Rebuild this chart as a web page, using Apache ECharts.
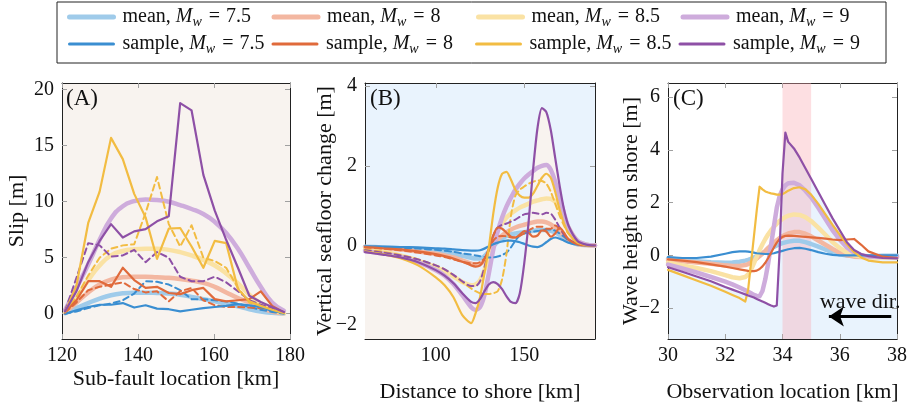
<!DOCTYPE html>
<html><head><meta charset="utf-8">
<script src="https://cdn.jsdelivr.net/npm/echarts@6/dist/echarts.min.js"></script>
<style>html,body{margin:0;padding:0;background:#fff}#c{width:914px;height:406px}</style>
</head><body><div id="c"></div>
<script>
// ---------- Panel A: slip vs sub-fault location ----------
const xsA = [120.8,123.8,126.9,129.9,132.9,136.0,139.0,142.0,145.0,148.1,151.1,154.1,157.2,160.2,163.2,166.3,169.3,172.3,175.3,178.4];
const aM75 = [0.05,0.5,0.95,1.35,1.65,1.82,1.88,1.88,1.85,1.8,1.7,1.5,1.3,1.1,0.9,0.65,0.4,0.2,0.08,0.02];
const aM8  = [0.1,1.0,1.9,2.6,3.05,3.25,3.3,3.3,3.25,3.2,3.1,2.95,2.75,2.4,1.9,1.4,1.0,0.55,0.2,0.05];
const aM85 = [0.15,1.4,3.0,4.3,5.2,5.6,5.75,5.8,5.8,5.7,5.5,5.2,4.8,4.3,3.6,2.7,1.7,0.9,0.35,0.05];
const aM9  = [0.3,2.3,4.4,6.6,8.5,9.6,10.05,10.2,10.15,10.0,9.7,9.35,8.9,8.2,7.2,5.8,4.1,2.4,1.0,0.25];
const aS75 = [0.0,0.3,0.6,0.8,0.8,0.95,0.55,0.75,0.45,0.4,0.2,0.35,0.5,0.6,0.7,0.85,0.75,0.6,0.25,0.05];
const aS8  = [0.1,1.2,2.9,2.9,2.4,4.1,3.0,2.3,2.4,1.85,1.75,2.1,2.3,1.3,1.1,1.2,1.3,2.0,0.7,0.1];
const aS85 = [0.15,2.5,8.1,10.9,15.7,13.8,10.7,8.6,4.9,7.6,7.65,6.0,4.1,6.5,6.3,2.2,1.1,0.7,0.35,0.05];
const aS9  = [0.2,2.0,4.6,6.5,8.0,6.8,7.35,7.55,8.25,8.7,18.8,18.15,12.4,9.2,6.6,4.1,1.6,1.05,0.6,0.15];
const aD75 = [0.0,0.2,0.5,0.75,0.9,1.2,1.8,2.9,2.85,2.6,2.1,1.3,1.3,1.2,1.1,0.9,0.6,0.35,0.15,0.0];
const aD8  = [0.1,1.0,2.1,2.4,2.6,2.8,2.2,1.9,2.0,1.1,2.0,2.3,1.2,0.75,0.6,0.6,0.55,0.5,0.35,0.05];
const aD85 = [0.1,1.5,3.4,5.0,5.8,6.1,6.2,9.0,12.2,8.0,6.0,7.9,5.0,4.7,4.1,2.3,1.0,0.6,0.3,0.05];
const aD9  = [0.25,3.2,6.3,6.1,5.1,5.2,5.7,4.6,5.5,5.0,3.3,2.9,2.9,3.3,2.8,2.0,1.2,0.8,0.5,0.1];
const ticksAx = [120,140,160,180], ticksAy = [0,5,10,15,20];

// ---------- Panel B: vertical seafloor change vs distance to shore ----------
const xsB = [60,70,80,90,100,105,110,115,120,122.5,125,127.5,130,132.5,135,137.5,140,142.5,145,147.5,150,152.5,155,157.5,160,162.5,165,167.5,170,172.5,175,180,185,190];
const bM75 = [-0.03,-0.05,-0.07,-0.1,-0.14,-0.17,-0.21,-0.26,-0.31,-0.33,-0.33,-0.27,-0.15,-0.02,0.1,0.18,0.24,0.28,0.3,0.32,0.33,0.35,0.37,0.38,0.39,0.39,0.37,0.33,0.26,0.18,0.11,0.03,0.01,0.0];
const bM8  = [-0.04,-0.07,-0.1,-0.15,-0.21,-0.25,-0.3,-0.38,-0.46,-0.49,-0.47,-0.38,-0.2,0.0,0.15,0.25,0.33,0.4,0.45,0.49,0.52,0.55,0.58,0.6,0.6,0.58,0.53,0.45,0.35,0.24,0.14,0.04,0.01,0.0];
const bM85 = [-0.1,-0.16,-0.25,-0.38,-0.55,-0.65,-0.78,-0.92,-1.0,-0.98,-0.88,-0.62,-0.25,0.12,0.38,0.55,0.7,0.8,0.88,0.95,1.0,1.05,1.1,1.13,1.16,1.18,1.17,1.1,0.95,0.7,0.45,0.12,0.02,0.0];
const bM9  = [-0.14,-0.2,-0.28,-0.42,-0.62,-0.76,-0.97,-1.25,-1.55,-1.62,-1.55,-1.25,-0.7,-0.1,0.35,0.7,0.98,1.2,1.4,1.55,1.68,1.78,1.87,1.95,2.0,2.02,1.9,1.6,1.2,0.8,0.45,0.12,0.02,0.0];
const bS75 = [-0.02,-0.03,-0.04,-0.05,-0.07,-0.08,-0.1,-0.12,-0.13,-0.13,-0.12,-0.08,-0.02,0.03,0.07,0.1,0.12,0.12,0.11,0.08,0.04,0.0,-0.03,-0.04,0.0,0.08,0.16,0.2,0.17,0.12,0.07,0.02,0.0,0.0];
const bS8  = [-0.04,-0.07,-0.1,-0.15,-0.22,-0.27,-0.33,-0.41,-0.5,-0.53,-0.5,-0.35,-0.08,0.25,0.45,0.42,0.32,0.22,0.2,0.27,0.36,0.32,0.22,0.25,0.38,0.35,0.22,0.3,0.45,0.32,0.15,0.03,0.0,0.0];
const bS85 = [-0.15,-0.22,-0.32,-0.5,-0.8,-1.0,-1.3,-1.75,-1.95,-1.7,-1.3,-0.7,-0.05,0.8,1.45,1.8,1.85,1.65,1.4,1.25,1.2,1.2,1.3,1.5,1.7,1.8,1.7,1.35,0.9,0.55,0.3,0.07,0.01,0.0];
const bS9  = [-0.17,-0.23,-0.3,-0.42,-0.62,-0.76,-0.95,-1.2,-1.42,-1.45,-1.35,-1.15,-0.98,-0.92,-0.97,-1.1,-1.28,-1.42,-1.45,-1.2,-0.45,0.6,1.9,2.95,3.45,3.35,2.9,2.2,1.5,0.9,0.5,0.12,0.02,0.0];
const bD75 = [-0.03,-0.04,-0.06,-0.08,-0.11,-0.13,-0.16,-0.2,-0.23,-0.25,-0.27,-0.29,-0.3,-0.3,-0.28,-0.24,-0.18,-0.05,0.12,0.25,0.3,0.33,0.35,0.36,0.38,0.4,0.4,0.37,0.3,0.22,0.13,0.04,0.01,0.0];
const bD8  = [-0.05,-0.08,-0.12,-0.18,-0.25,-0.29,-0.35,-0.41,-0.45,-0.45,-0.42,-0.33,-0.12,0.12,0.22,0.24,0.23,0.2,0.2,0.24,0.3,0.38,0.44,0.47,0.47,0.42,0.42,0.5,0.42,0.28,0.15,0.04,0.01,0.0];
const bD85 = [-0.1,-0.16,-0.24,-0.35,-0.5,-0.6,-0.75,-0.92,-1.08,-1.15,-1.2,-1.22,-1.22,-1.2,-1.15,-0.85,-0.2,0.75,1.25,1.4,1.48,1.55,1.6,1.63,1.62,1.55,1.35,1.05,0.75,0.5,0.3,0.08,0.01,0.0];
const bD9  = [-0.12,-0.18,-0.25,-0.35,-0.5,-0.6,-0.74,-0.9,-1.02,-1.02,-0.9,-0.55,-0.1,0.25,0.45,0.52,0.55,0.6,0.65,0.72,0.78,0.8,0.82,0.8,0.78,0.82,0.8,0.65,0.45,0.28,0.15,0.04,0.01,0.0];
const ticksBx = [100,150], ticksBy = [-2,0,2,4];

// ---------- Panel C: wave height on shore vs observation location ----------
const xsC = [30,30.5,31,31.5,32,32.25,32.5,32.7,32.8,32.9,33.0,33.1,33.2,33.3,33.4,33.5,33.6,33.7,33.8,33.9,34.0,34.1,34.2,34.4,34.6,34.8,35.0,35.25,35.5,35.75,36.0,36.25,36.5,36.75,37.0,37.5,38.0];
const cM75 = [-0.12,-0.17,-0.22,-0.26,-0.28,-0.27,-0.24,-0.2,-0.17,-0.13,-0.08,-0.03,0.02,0.08,0.14,0.2,0.26,0.32,0.37,0.42,0.46,0.49,0.52,0.55,0.55,0.5,0.43,0.33,0.22,0.12,0.04,-0.01,-0.03,-0.03,-0.03,-0.02,-0.02];
const cM8  = [-0.18,-0.22,-0.27,-0.32,-0.38,-0.4,-0.4,-0.37,-0.33,-0.27,-0.2,-0.12,-0.03,0.07,0.17,0.28,0.38,0.48,0.57,0.65,0.72,0.78,0.83,0.88,0.88,0.82,0.72,0.56,0.4,0.24,0.1,0.0,-0.05,-0.06,-0.06,-0.05,-0.05];
const cM85 = [-0.28,-0.38,-0.48,-0.6,-0.75,-0.83,-0.87,-0.82,-0.72,-0.55,-0.3,-0.05,0.2,0.42,0.62,0.8,0.95,1.08,1.2,1.3,1.38,1.45,1.5,1.55,1.53,1.45,1.3,1.05,0.78,0.5,0.27,0.1,0.0,-0.05,-0.07,-0.08,-0.08];
const cM9  = [-0.35,-0.5,-0.65,-0.82,-1.0,-1.1,-1.22,-1.32,-1.38,-1.44,-1.5,-1.54,-1.55,-1.35,-0.9,-0.3,0.4,1.1,1.8,2.25,2.5,2.65,2.73,2.75,2.65,2.45,2.2,1.8,1.38,0.95,0.6,0.3,0.1,0.0,-0.04,-0.06,-0.06];
const cS75 = [-0.07,-0.1,-0.1,-0.05,0.06,0.12,0.15,0.15,0.14,0.12,0.1,0.08,0.07,0.06,0.05,0.05,0.06,0.08,0.11,0.14,0.17,0.2,0.23,0.27,0.28,0.25,0.2,0.12,0.06,0.02,0.0,0.0,0.0,0.0,0.0,0.0,0.0];
const cS8  = [-0.15,-0.2,-0.26,-0.34,-0.43,-0.48,-0.53,-0.57,-0.59,-0.6,-0.6,-0.58,-0.52,-0.42,-0.28,-0.1,0.1,0.3,0.48,0.62,0.7,0.74,0.75,0.74,0.72,0.7,0.68,0.66,0.63,0.6,0.58,0.6,0.62,0.4,0.15,-0.05,-0.1];
const cS85 = [-0.55,-0.75,-0.95,-1.15,-1.38,-1.5,-1.62,-1.75,-1.3,-0.3,0.7,1.7,2.6,2.5,2.42,2.38,2.35,2.33,2.3,2.3,2.32,2.38,2.45,2.55,2.58,2.5,2.3,1.95,1.55,1.15,0.78,0.42,0.12,-0.08,-0.2,-0.27,-0.27];
const cS9  = [-0.45,-0.62,-0.8,-0.98,-1.2,-1.3,-1.4,-1.48,-1.52,-1.56,-1.6,-1.65,-1.7,-1.75,-1.8,-1.85,-1.9,-1.94,-1.9,0.2,3.1,4.65,4.3,4.05,3.7,3.3,2.9,2.4,1.9,1.4,0.95,0.5,0.2,0.05,-0.03,-0.1,-0.12];
const ticksCx = [30,32,34,36,38], ticksCy = [-2,0,2,4,6];
const shoreBand = [34, 35];
const waveArrow = [[37.8, -2.32], [35.62, -2.32]];

const legendNames = ['mean, M_w = 7.5','mean, M_w = 8','mean, M_w = 8.5','mean, M_w = 9',
                     'sample, M_w = 7.5','sample, M_w = 8','sample, M_w = 8.5','sample, M_w = 9'];

// ---------- styling ----------
const FONT = '"Liberation Serif","DejaVu Serif",serif';
const COL = {
  m75:'#9fcbea', m8:'#f3b7a1', m85:'#fae2a4', m9:'#ceacdc',
  s75:'#3a8ed1', s8:'#e06a3b', s85:'#f2bc42', s9:'#8e50a6'
};
const legendCols = [COL.m75, COL.m8, COL.m85, COL.m9, COL.s75, COL.s8, COL.s85, COL.s9];
const BEIGE = '#f8f3ef', SKY = '#e9f3fd';
const fmt = v => (v < 0 ? '\u2212' + Math.abs(v) : String(v));
const pairs = (xs, ys) => xs.map((x, i) => [x, ys[i]]);

function line(name, g, xs, ys, color, width, dashed, z, smooth) {
  return { type:'line', name, xAxisIndex:g*2, yAxisIndex:g*2, data:pairs(xs, ys),
    symbol:'none', smooth: smooth || false, z, silent:true, animation:false,
    lineStyle:{ color, width, type: dashed ? [6,4] : 'solid', cap:'round', join:'round' },
    itemStyle:{ color } };
}

function axes(g, xmin, xmax, xt, ymin, ymax, yt, xname, xgap, yname, ygap) {
  const base = (t, show) => ({
    axisLine:{ show:true, onZero:false, lineStyle:{ color:'#222', width:1 } },
    axisTick:{ show:true, inside:true, length:5, lineStyle:{ color:'#a0a0a0', width:1 }, customValues:t },
    axisLabel:{ show, customValues:t, fontFamily:FONT, fontSize:20, color:'#111', formatter:fmt },
    splitLine:{ show:false }
  });
  const xa = Object.assign({ type:'value', gridIndex:g, position:'bottom', min:xmin, max:xmax,
     name:xname, nameLocation:'middle', nameGap:xgap, nameMoveOverlap:false,
     nameTextStyle:{ fontFamily:FONT, fontSize:22, color:'#111' } }, base(xt, true));
  xa.axisLabel.margin = 7;
  const xb = Object.assign({ type:'value', gridIndex:g, position:'top', min:xmin, max:xmax }, base(xt, false));
  const ya = Object.assign({ type:'value', gridIndex:g, position:'left', min:ymin, max:ymax,
     name:yname, nameLocation:'middle', nameGap:ygap, nameMoveOverlap:false,
     nameTextStyle:{ fontFamily:FONT, fontSize:22, color:'#111' } }, base(yt, true));
  ya.axisLabel.margin = 8;
  const yb = Object.assign({ type:'value', gridIndex:g, position:'right', min:ymin, max:ymax }, base(yt, false));
  return { x:[xa, xb], y:[ya, yb] };
}

const A = axes(0, 120, 180, ticksAx, -2.26, 20.6, ticksAy, 'Sub-fault location [km]', 29, 'Slip [m]', 34);
const B = axes(1, 60, 190, ticksBx, -2.35, 4.08, ticksBy, 'Distance to shore [km]', 42, 'Vertical seafloor change [m]', 29);
const C = axes(2, 30, 38, ticksCx, -3.17, 6.53, ticksCy, 'Observation location [km]', 42, 'Wave height on shore [m]', 26);

const series = [];
// Panel A
series.push(line(legendNames[0],0,xsA,aM75,COL.m75,4.5,false,2,true));
series.push(line(legendNames[1],0,xsA,aM8,COL.m8,4.5,false,2,true));
series.push(line(legendNames[2],0,xsA,aM85,COL.m85,4.5,false,2,true));
series.push(line(legendNames[3],0,xsA,aM9,COL.m9,4.5,false,2,true));
series.push(line('d75',0,xsA,aD75,COL.s75,2,true,3));
series.push(line('d8',0,xsA,aD8,COL.s8,2,true,3));
series.push(line('d85',0,xsA,aD85,COL.s85,2,true,3));
series.push(line('d9',0,xsA,aD9,COL.s9,2,true,3));
series.push(line(legendNames[4],0,xsA,aS75,COL.s75,2.2,false,4));
series.push(line(legendNames[5],0,xsA,aS8,COL.s8,2.2,false,4));
series.push(line(legendNames[6],0,xsA,aS85,COL.s85,2.2,false,4));
series.push(line(legendNames[7],0,xsA,aS9,COL.s9,2.2,false,4));
// Panel B : seafloor fill under the Mw 9 sample
series.push({ type:'line', name:'seafloor', xAxisIndex:2, yAxisIndex:2, data:pairs(xsB,bS9), symbol:'none',
  smooth:0.25, z:1, silent:true, animation:false, lineStyle:{ width:0, opacity:0 },
  areaStyle:{ color:BEIGE, opacity:1, origin:'start' } });
const SB = 0.25;
series.push(line(legendNames[0],1,xsB,bM75,COL.m75,4.5,false,2,SB));
series.push(line(legendNames[1],1,xsB,bM8,COL.m8,4.5,false,2,SB));
series.push(line(legendNames[2],1,xsB,bM85,COL.m85,4.5,false,2,SB));
series.push(line(legendNames[3],1,xsB,bM9,COL.m9,4.5,false,2,SB));
series.push(line('d75',1,xsB,bD75,COL.s75,2,true,3,SB));
series.push(line('d8',1,xsB,bD8,COL.s8,2,true,3,SB));
series.push(line('d85',1,xsB,bD85,COL.s85,2,true,3,SB));
series.push(line('d9',1,xsB,bD9,COL.s9,2,true,3,SB));
series.push(line(legendNames[4],1,xsB,bS75,COL.s75,2.2,false,4,SB));
series.push(line(legendNames[5],1,xsB,bS8,COL.s8,2.2,false,4,SB));
series.push(line(legendNames[6],1,xsB,bS85,COL.s85,2.2,false,4,SB));
series.push(line(legendNames[7],1,xsB,bS9,COL.s9,2.2,false,4,SB));
// Panel C : water fill under the Mw 9 sample, shore band, arrow
series.push({ type:'line', name:'water', xAxisIndex:4, yAxisIndex:4, data:pairs(xsC,cS9), symbol:'none',
  z:0, zlevel:0, silent:true, animation:false, lineStyle:{ width:0, opacity:0 },
  areaStyle:{ color:SKY, opacity:1, origin:'start' } });
series.push({ type:'line', name:'band', xAxisIndex:4, yAxisIndex:4, data:[], z:3, silent:true, animation:false,
  markArea:{ silent:true, z:3, itemStyle:{ color:'rgba(250,170,178,0.38)' }, data:[[{ xAxis:shoreBand[0] },{ xAxis:shoreBand[1] }]] } });
series.push({ type:'line', name:'arrow', xAxisIndex:4, yAxisIndex:4, data:[], z:8, silent:true, animation:false,
  markLine:{ silent:true, animation:false, symbol:['none','arrow'], symbolSize:15, symbolOffset:0,
    lineStyle:{ color:'#000', width:3, type:'solid', opacity:1 },
    itemStyle:{ color:'#000' },
    label:{ show:true, position:'insideMiddleTop', formatter:'wave dir.', distance:3,
            fontFamily:FONT, fontSize:22, color:'#111' },
    data:[[{ coord:waveArrow[0] },{ coord:waveArrow[1] }]] } });
series.push(line(legendNames[0],2,xsC,cM75,COL.m75,4.5,false,5));
series.push(line(legendNames[1],2,xsC,cM8,COL.m8,4.5,false,5));
series.push(line(legendNames[2],2,xsC,cM85,COL.m85,4.5,false,5));
series.push(line(legendNames[3],2,xsC,cM9,COL.m9,4.5,false,5));
series.push(line(legendNames[4],2,xsC,cS75,COL.s75,2.2,false,6));
series.push(line(legendNames[5],2,xsC,cS8,COL.s8,2.2,false,6));
series.push(line(legendNames[6],2,xsC,cS85,COL.s85,2.2,false,6));
series.push(line(legendNames[7],2,xsC,cS9,COL.s9,2.2,false,6));

const LF = 20;
const gridBase = { top:83, height:256, show:true, borderWidth:0, containLabel:false, outerBoundsMode:'none' };
const chart = echarts.init(document.getElementById('c'), null, { renderer:'canvas' });
chart.setOption({
  animation:false,
  backgroundColor:'#fff',
  grid:[
    Object.assign({ left:62, width:228, backgroundColor:BEIGE }, gridBase),
    Object.assign({ left:365, width:230, backgroundColor:SKY }, gridBase),
    Object.assign({ left:668, width:229, backgroundColor:'#fff' }, gridBase)
  ],
  xAxis:[...A.x, ...B.x, ...C.x],
  yAxis:[...A.y, ...B.y, ...C.y],
  legend:{
    left:57, top:2, width:830, padding:[3,4,7,10], itemGap:3, itemWidth:44, itemHeight:14,
    borderColor:'#222', borderWidth:1, borderRadius:0, selectedMode:false,
    itemStyle:{ opacity:0 },
    data:legendNames.map((n, i) => ({ name:n,
      lineStyle:{ color:legendCols[i], width: i < 4 ? 5 : 3, type:'solid', opacity:1 } })),
    formatter:function(name){
      const m = name.match(/^(\w+), M_w = (.+)$/);
      return '{f|' + m[1] + ',}{t| }{i|M}{s|w}{e|=}{t|' + m[2] + '}';
    },
    textStyle:{ fontFamily:FONT, fontSize:LF, color:'#111', width:150, overflow:'none', lineHeight:24,
      rich:{
        f:{ fontFamily:FONT, fontSize:LF, color:'#111', lineHeight:24, padding:[0,0,0,4] },
        t:{ fontFamily:FONT, fontSize:LF, color:'#111', lineHeight:24 },
        i:{ fontFamily:FONT, fontSize:LF, fontStyle:'italic', color:'#111', lineHeight:24 },
        s:{ fontFamily:FONT, fontSize:14, fontStyle:'italic', color:'#111', lineHeight:15, verticalAlign:'bottom' },
        e:{ fontFamily:FONT, fontSize:LF, color:'#111', lineHeight:24, padding:[0,6,0,7] }
      } }
  },
  graphic:[
    { type:'text', left:66, top:87, silent:true, style:{ text:'(A)', font:'23px "Liberation Serif",serif', fill:'#111' } },
    { type:'text', left:370, top:87, silent:true, style:{ text:'(B)', font:'23px "Liberation Serif",serif', fill:'#111' } },
    { type:'text', left:673, top:87, silent:true, style:{ text:'(C)', font:'23px "Liberation Serif",serif', fill:'#111' } }
  ],
  series
});
</script></body></html>
